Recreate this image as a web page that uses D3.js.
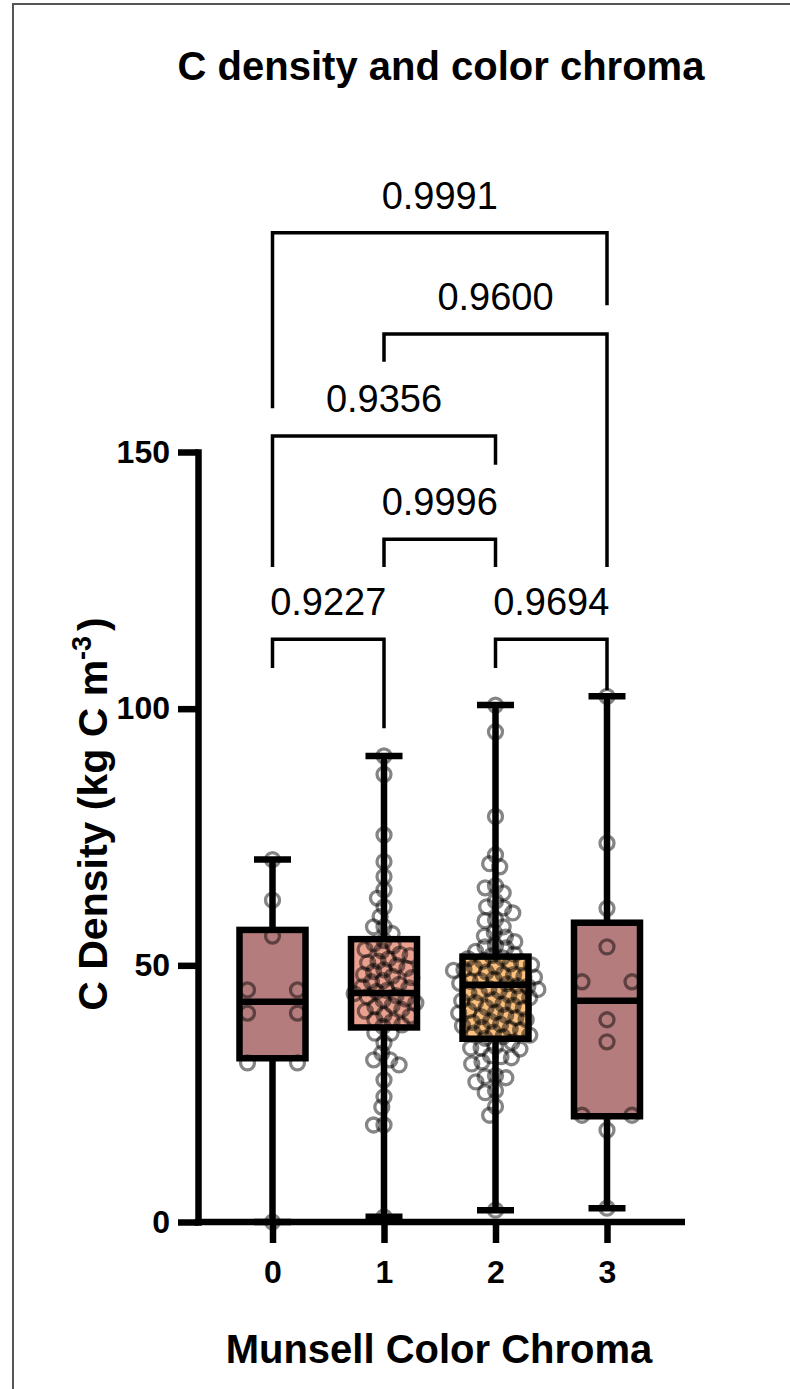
<!DOCTYPE html>
<html><head><meta charset="utf-8">
<script src="https://cdn.jsdelivr.net/npm/d3@7"></script>
<style>
body{margin:0;background:#fff}
svg{display:block}
text{font-family:"Liberation Sans",Arial,Helvetica,sans-serif}
</style>
</head><body>
<svg id="chart" width="790" height="1389"></svg>
<script>
// ---------- DATA ----------
const categories = ["0", "1", "2", "3"];
const boxColors = ["#b47c7d", "#eba190", "#fcc07f", "#b47c7d"];

const values0 = [70.6, 62.7, 55.7, 45.2, 45.2, 40.7, 40.7, 31.0, 31.0, 0];
const values1 = [90.8, 87.2, 75.4, 70.2, 67.3, 64.7, 63.1, 61.4, 59.5, 57.5, 57.5, 56.2,
  54.8, 54.2, 53.8, 53.1, 52.8, 52.2, 51.9, 51.2, 50.8, 50.5, 50.0, 49.4, 49.1, 48.8,
  48.2, 47.9, 47.6, 47.0, 46.8, 46.3, 45.8, 45.6, 45.1, 44.9, 44.5, 44.1, 43.9, 43.4,
  43.2, 42.7, 42.2, 41.9, 41.4, 41.1, 40.4, 40.1, 39.4, 39.1, 38.4, 38.1,
  36.8, 36.8, 34.9, 32.9, 31.6, 31.6, 30.6, 27.7, 24.4, 22.4, 18.9, 18.9, 1.0];
const values2 = [100.7, 95.5, 79.0, 71.5, 69.8, 69.2, 65.5, 65.1, 64.1, 62.5, 61.4, 61.2,
  60.2, 58.9, 58.7, 57.5, 56.4, 55.7, 55.5, 54.6, 53.8, 53.6, 53.4, 52.7, 52.2, 51.9,
  51.5, 51.3, 50.8, 50.7, 50.3, 50.1, 49.7, 49.6, 49.2, 49.0, 48.7, 48.3, 48.2, 47.8,
  47.7, 47.3, 47.0, 46.9, 46.5, 46.4, 46.0, 45.9, 45.5, 45.3, 45.0, 44.7, 44.6, 44.2,
  43.9, 43.7, 43.3, 43.1, 42.8, 42.4, 42.2, 41.8, 41.6, 41.2, 40.9, 40.7, 40.3, 40.0,
  39.8, 39.4, 39.1, 38.9, 38.5, 38.2, 37.9, 37.6, 37.4, 37.0, 36.8, 36.4, 36.1, 35.8,
  35.0, 34.2, 33.9, 33.9, 33.7, 32.4, 32.2, 32.0, 31.2, 30.8, 28.5, 28.3, 28.1, 27.3,
  25.6, 25.2, 22.5, 20.8, 2.3];
const values3 = [102.4, 73.8, 61.1, 53.6, 46.8, 46.8, 39.4, 35.1, 20.8, 20.8, 17.9, 2.7];
const seriesValues = [values0, values1, values2, values3];

const boxMin    = [0, 1.0, 2.3, 2.7];
const boxQ1     = [31.9, 37.9, 35.7, 20.6];
const boxMedian = [42.9, 44.6, 46.2, 43.1];
const boxQ3     = [56.9, 55.1, 51.7, 58.3];
const boxMax    = [70.6, 90.8, 100.7, 102.4];

const yTicks = [0, 50, 100, 150];

// comparison brackets
const pLabels     = ["0.9227", "0.9694", "0.9996", "0.9356", "0.9600", "0.9991"];
const bracketFrom = [0, 2, 1, 0, 1, 0];
const bracketTo   = [1, 3, 2, 2, 3, 3];
const bracketY    = [113.5, 113.5, 133.0, 153.1, 173.0, 192.7];
const legFromEnd  = [107.9, 107.9, 127.6, 127.6, 167.6, 158.5];
const legToEnd    = [96.2, 103.6, 127.6, 147.5, 127.6, 178.6];

const titleText = "C density and color chroma";
const xTitle = "Munsell Color Chroma";

// ---------- LAYOUT ----------
const svg = d3.select("#chart");
const axisX = 198, axisRight = 685;
const x = d3.scalePoint().domain(categories).range([272.5, 607]);
const y = d3.scaleLinear().domain([0, 150]).range([1222, 452]);
const boxW = 66, capW = 37, thick = 6.5;
const FONT = "'Liberation Sans',Arial,Helvetica,sans-serif";

// frame
svg.append("path").attr("d", "M13,1389V4H790").attr("fill", "none")
  .attr("stroke", "#555").attr("stroke-width", 2);

// title
svg.append("text").attr("x", 441).attr("y", 80).attr("text-anchor", "middle")
  .attr("font-size", 40).attr("font-weight", "bold").text(titleText);

// whiskers, boxes
const groups = svg.append("g");
categories.forEach((c, i) => {
  const cx = x(c);
  const g = groups.append("g");
  g.append("line").attr("x1", cx).attr("x2", cx).attr("y1", y(boxMax[i])).attr("y2", y(boxMin[i]))
    .attr("stroke", "#000").attr("stroke-width", thick);
  [boxMax[i], boxMin[i]].forEach(v => {
    g.append("line").attr("x1", cx - capW / 2).attr("x2", cx + capW / 2)
      .attr("y1", y(v)).attr("y2", y(v)).attr("stroke", "#000").attr("stroke-width", thick);
  });
  g.append("rect").attr("x", cx - boxW / 2).attr("width", boxW)
    .attr("y", y(boxQ3[i])).attr("height", y(boxQ1[i]) - y(boxQ3[i]))
    .attr("fill", boxColors[i]).attr("stroke", "#000").attr("stroke-width", thick);
  g.append("line").attr("x1", cx - boxW / 2).attr("x2", cx + boxW / 2)
    .attr("y1", y(boxMedian[i])).attr("y2", y(boxMedian[i]))
    .attr("stroke", "#000").attr("stroke-width", thick);
});

// beeswarm layout (dense columns) / centred rows of ties (sparse columns)
function swarm(vals, D) {
  const pts = vals.map(v => ({ v, py: y(v) })).sort((a, b) => a.py - b.py);
  const placed = [];
  for (const p of pts) {
    const iv = [];
    for (const q of placed) {
      const dy = Math.abs(q.py - p.py);
      if (dy < D) { const w = Math.sqrt(D * D - dy * dy); iv.push([q.dx - w, q.dx + w]); }
    }
    const cands = [0];
    iv.forEach(([a, b]) => cands.push(a, b));
    cands.sort((a, b) => Math.abs(a) - Math.abs(b) || a - b);
    p.dx = 0;
    for (const c of cands) {
      if (iv.every(([a, b]) => c <= a + 1e-6 || c >= b - 1e-6)) { p.dx = c; break; }
    }
    placed.push(p);
  }
  return placed;
}
function tieRows(vals, step) {
  const rows = d3.groups(vals, v => v);
  const out = [];
  rows.forEach(([v, arr]) => arr.forEach((_, k) =>
    out.push({ v, py: y(v), dx: (k - (arr.length - 1) / 2) * step })));
  return out;
}
const ptsG = svg.append("g");
seriesValues.forEach((vals, i) => {
  const pts = vals.length < 20 ? tieRows(vals, 50) : swarm(vals, 10.5);
  ptsG.selectAll(null).data(pts).enter().append("circle")
    .attr("cx", d => x(categories[i]) + d.dx).attr("cy", d => d.py).attr("r", 7)
    .attr("fill", "none").attr("stroke", "#000").attr("stroke-opacity", 0.48)
    .attr("stroke-width", 3.3);
});

// y axis
const yAxis = svg.append("g").attr("transform", `translate(${axisX},0)`)
  .call(d3.axisLeft(y).tickValues(yTicks).tickSize(20).tickSizeOuter(0).tickPadding(8));
yAxis.select(".domain").attr("stroke-width", thick).attr("stroke-linecap", "square");
yAxis.selectAll(".tick line").attr("stroke-width", thick);
yAxis.selectAll(".tick text").attr("font-size", 32).attr("font-weight", "bold")
  .attr("font-family", FONT).attr("fill", "#000");

// x axis
const xAxis = svg.append("g").attr("transform", `translate(0,${y(0)})`)
  .call(d3.axisBottom(x).tickSize(21).tickSizeOuter(0).tickPadding(17));
xAxis.select(".domain").remove();
xAxis.append("line").attr("x1", axisX - thick / 2).attr("x2", axisRight)
  .attr("stroke", "#000").attr("stroke-width", thick);
xAxis.selectAll(".tick line").attr("stroke-width", thick);
xAxis.selectAll(".tick text").attr("font-size", 32).attr("font-weight", "bold")
  .attr("font-family", FONT).attr("fill", "#000");

// axis titles
svg.append("text").attr("x", 439).attr("y", 1363).attr("text-anchor", "middle")
  .attr("font-size", 40).attr("font-weight", "bold").text(xTitle);

const yl = svg.append("text").attr("transform", "translate(107,814) rotate(-90)")
  .attr("text-anchor", "middle").attr("font-size", 41).attr("font-weight", "bold");
yl.append("tspan").text("C Density (kg C m");
yl.append("tspan").attr("font-size", 27).attr("dy", -16).text("-3");
yl.append("tspan").attr("dy", 16).attr("dx", 5).text(")");

// brackets
const br = svg.append("g");
pLabels.forEach((lab, i) => {
  const xa = x(categories[bracketFrom[i]]), xb = x(categories[bracketTo[i]]);
  const yy = y(bracketY[i]);
  br.append("path")
    .attr("d", `M${xa},${y(legFromEnd[i])}V${yy}H${xb}V${y(legToEnd[i])}`)
    .attr("fill", "none").attr("stroke", "#000").attr("stroke-width", 3.5);
  br.append("text").attr("x", (xa + xb) / 2).attr("y", yy - 24)
    .attr("text-anchor", "middle").attr("font-size", 38).text(lab);
});
</script>
</body></html>
